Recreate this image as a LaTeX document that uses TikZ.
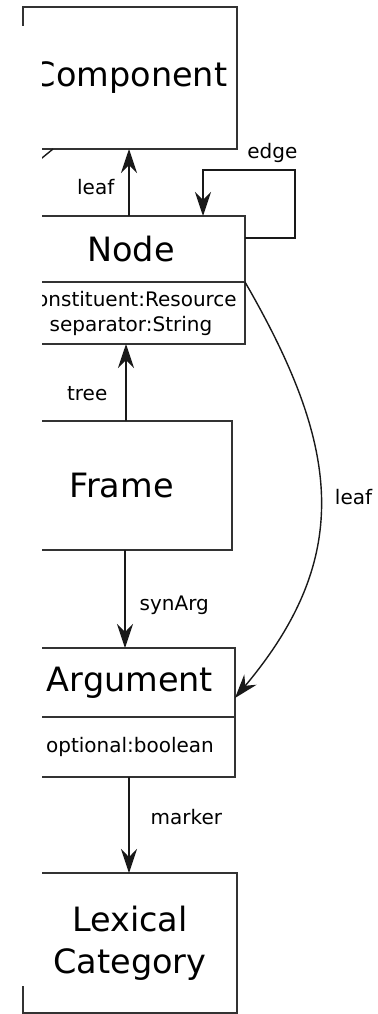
\documentclass[tikz,border=0pt]{standalone}
\usepackage{fontspec}
\setmainfont{DejaVu Sans}
\usetikzlibrary{arrows.meta,positioning}

\begin{document}
\begin{tikzpicture}[
  font=\fontsize{10bp}{12.5bp}\selectfont,
  class/.style={
    draw=black!80,
    line width=1bp,
    outer sep=0pt,
    inner sep=0pt,
    align=center,
    font=\fontsize{16.75bp}{21bp}\selectfont
  },
  attrs/.style={
    class,
    font=\fontsize{10bp}{12.5bp}\selectfont
  },
  link/.style={-{Stealth[length=12bp, width=8bp, inset=4bp]}, line width=0.7bp, draw=black!90},
  tag/.style={inner sep=0pt, font=\fontsize{10bp}{12.5bp}\selectfont}
]

\useasboundingbox (0,0) rectangle (189bp,-507bp);

\node[class, minimum width=107bp, minimum height=71bp] (comp) at (65bp,-39bp) {Component};
\node[class, minimum width=114bp, minimum height=33bp, below=33.5bp of comp, xshift=0.5bp] (nodebox) {Node};
\node[attrs, minimum width=114bp, minimum height=31bp, below=0pt of nodebox] (nodeattr) {constituent:Resource\\separator:String};
\node[class, minimum width=110.5bp, minimum height=64.5bp, below=38.5bp of nodeattr, xshift=-4.75bp] (frame) {Frame};
\node[class, minimum width=105bp, minimum height=34.5bp, below=49bp of frame, xshift=4.25bp] (argbox) {Argument};
\node[attrs, minimum width=105bp, minimum height=30bp, below=0pt of argbox] (argattr) {optional:boolean};
\node[class, minimum width=107bp, minimum height=70bp, below=48bp of argattr] (lexcat) {Lexical\\Category};

\draw[link] ([xshift=-1bp]nodebox.north) -- ([xshift=-1bp]nodebox.north |- comp.south)
  node[tag, pos=0.43, left=7bp] {leaf};
\draw[link] ([yshift=5.5bp]nodebox.east) -- ++(25bp,0)
  |- node[tag, pos=0.5, anchor=base east, xshift=1.5bp, yshift=5.75bp] {edge} ([xshift=36bp,yshift=23bp]nodebox.north)
  -- ([xshift=36bp]nodebox.north);
\draw[link] ([xshift=2.25bp]frame.north) -- ([xshift=2.25bp]frame.north |- nodeattr.south)
  node[tag, pos=0.36, left=9bp] {tree};
\draw[link] ([xshift=1.75bp]frame.south) -- ([xshift=1.75bp]frame.south |- argbox.north)
  node[tag, pos=0.56, right=7bp] {synArg};
\draw[link] ([xshift=-0.5bp]argattr.south) -- ([xshift=-0.5bp]argattr.south |- lexcat.north)
  node[tag, pos=0.42, right=10.5bp] {marker};
\draw[link] (nodeattr.north east) to[out=-60, in=50, looseness=1.15]
  node[tag, right=7bp] {leaf} ([yshift=-7.75bp]argbox.east);

% end of an incoming edge on the left
\coordinate (stub) at ([xshift=4bp,yshift=-9bp]comp.south west);
\draw[line width=0.7bp, draw=black!90] (stub) -- ([xshift=15bp]comp.south west);

% left margin cut
\fill[white] (0,-12.75bp) rectangle (20.75bp,-492.75bp);

\end{tikzpicture}
\end{document}
